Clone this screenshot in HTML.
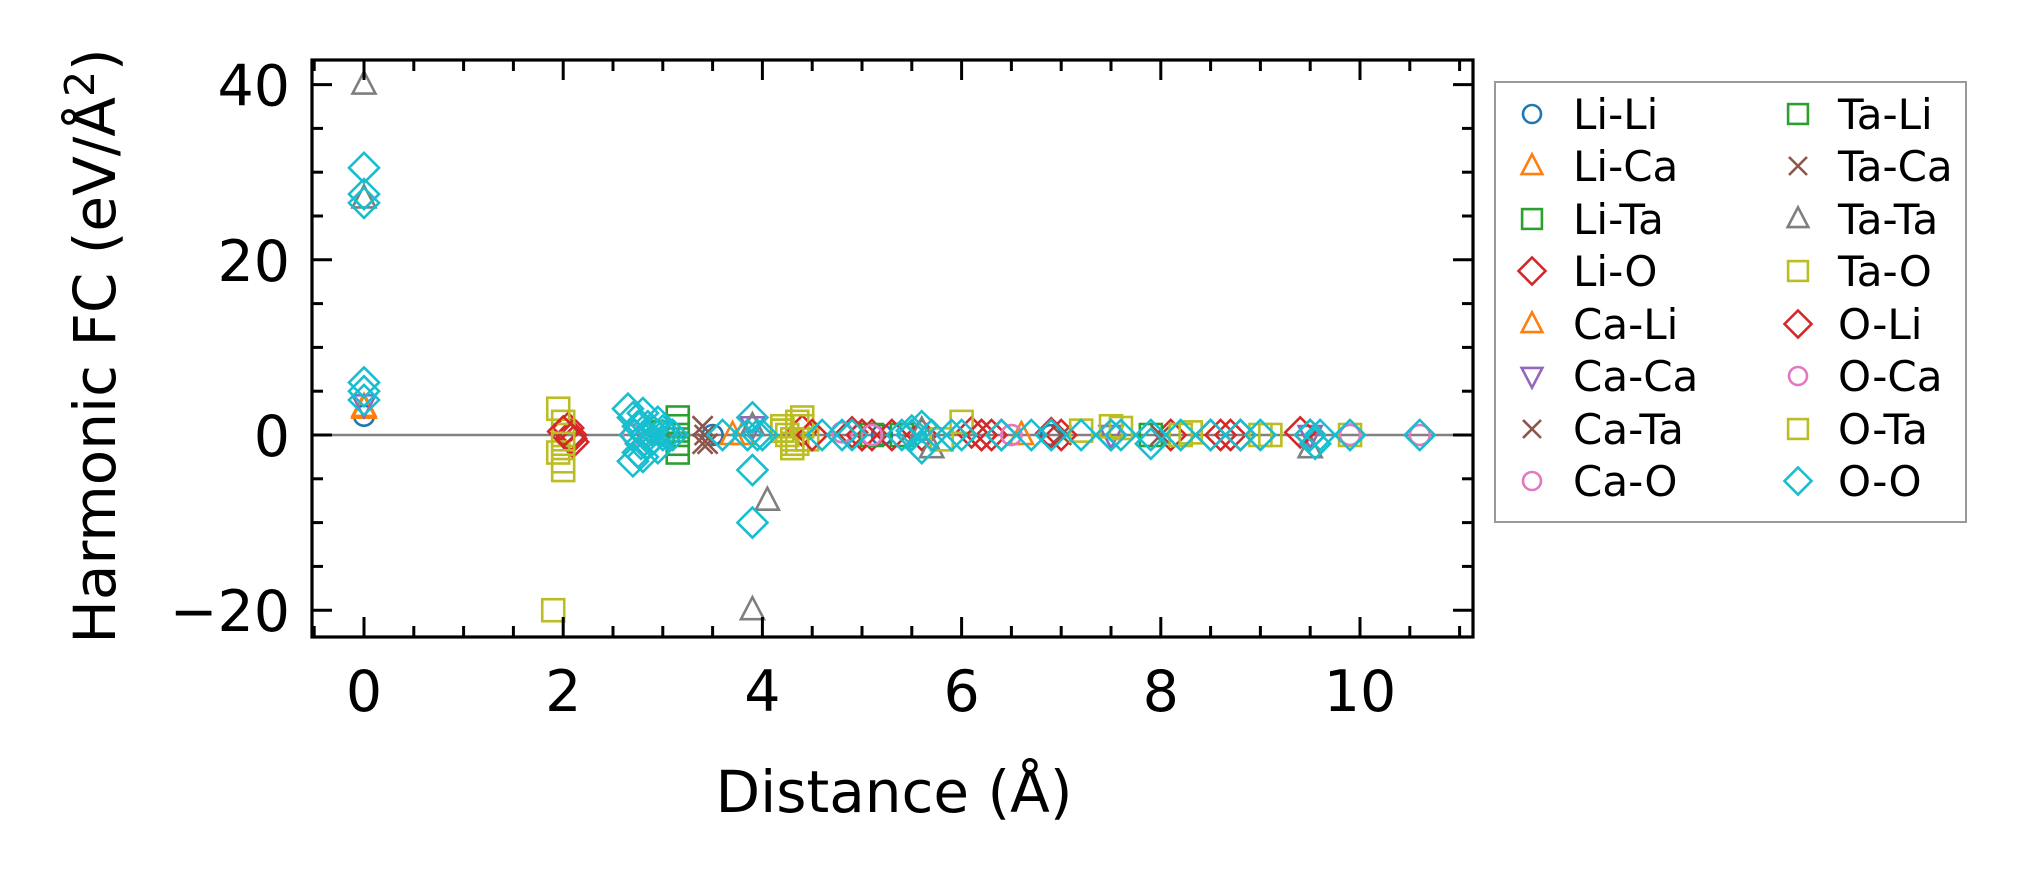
<!DOCTYPE html>
<html><head><meta charset="utf-8"><style>
html,body{margin:0;padding:0;background:#fff;}
svg{display:block;font-family:"DejaVu Sans","Liberation Sans",sans-serif;}
</style></head><body>
<svg id="chart" width="2026" height="883" viewBox="0 0 2026 883" xmlns="http://www.w3.org/2000/svg">
<rect width="2026" height="883" fill="#fff"/>
<g id="plot"></g>
<g id="axes"></g>
<g id="legend"></g>
</svg>
<script>
// ---- data ----
const xTicks = [0, 2, 4, 6, 8, 10];
const yTicks = [-20, 0, 20, 40];
const seriesNames = ["Li-Li","Li-Ca","Li-Ta","Li-O","Ca-Li","Ca-Ca","Ca-Ta","Ca-O","Ta-Li","Ta-Ca","Ta-Ta","Ta-O","O-Li","O-Ca","O-Ta","O-O"];
const liliD = [0, 3.5, 5.2, 6.9];
const liliV = [2.2, 0, 0, 0];
const licaD = [0, 3.7];
const licaV = [3, 0];
const litaD = [3.0, 5.4];
const litaV = [0.3, 0];
const lioD = [2.05, 2.1, 2.08, 4.4, 4.9, 5.0, 5.1, 5.6, 6.1, 6.2, 6.3, 6.9, 7.5, 8.1, 8.5, 8.8, 9.5];
const lioV = [0.8, -0.8, 0, 0.5, 0.3, 0, 0, 0, 0.3, 0, 0, 0.2, 0, 0, 0, 0, 0];
const caliD = [0, 3.8, 6.6];
const caliV = [3.2, 0, 0];
const cacaD = [0, 3.9, 7.5, 9.5];
const cacaV = [3.5, 1, 0, 0];
const cataD = [3.4, 3.45, 3.42, 7.0];
const cataV = [1, -1, 0, 0];
const caoD = [2.7, 4.8, 5.1, 6.5];
const caoV = [0, 0.3, 0, 0];
const taliD = [3.15, 3.15, 3.15, 3.15, 3.15, 5.1, 7.9];
const taliV = [2, 1, 0, -1, -2, 0, 0];
const tacaD = [3.4, 3.4, 8.0];
const tacaV = [1, -1, 0];
const tataD = [0, 0, 3.9, 4.05, 3.9, 5.6, 5.7, 9.5];
const tataV = [40, 27, -20, -7.5, 1, 0.5, -1.5, -1.5];
const taoD = [1.9, 1.95, 1.95, 2.0, 2.0, 2.0, 4.2, 4.25, 4.3, 4.35, 4.4, 4.4, 4.35, 4.3, 4.2, 4.45, 6.0, 7.5, 7.6, 8.3, 9.1, 9.9];
const taoV = [-20, 3, -2, -4, 0, 1.5, 1, 0, -1, 1.5, 2, 1, -1, -1.5, 0.5, -0.5, 1.5, 1, 0.8, 0.3, 0, 0];
const oliD = [2.0, 2.08, 4.5, 5.0, 5.3, 6.2, 6.4, 7.0, 8.6, 8.7, 9.4];
const oliV = [0.4, -0.4, 0, 0, 0, 0, 0, 0, 0, 0, 0.3];
const ocaD = [5.1, 6.5, 9.9, 10.6];
const ocaV = [0, 0, 0, 0];
const otaD = [2.0, 2.0, 4.2, 4.3, 5.8, 7.2, 8.2, 9.0];
const otaV = [-1, -3, 0.5, -0.5, -0.5, 0.5, 0, 0];
const ooD = [0,0,0,0,0,0,2.65,2.7,2.7,2.72,2.75,2.75,2.78,2.8,2.8,2.82,2.85,2.85,2.9,2.9,2.95,2.95,3.0,3.0,3.05,3.1,3.6,3.85,3.9,3.9,3.9,3.95,4.0,4.6,4.8,4.9,5.4,5.5,5.5,5.6,5.6,5.7,5.9,6.0,6.4,6.7,6.9,7.2,7.5,7.6,7.9,7.9,8.2,8.5,8.8,9.0,9.5,9.55,9.6,9.9,10.6];
const ooV = [30.5,27.5,26.5,6,5,4,3,-3,2,0,-2,1,-1,2.5,-2.5,0,1,-1,0.5,-0.5,1.5,-1.5,0,0.5,0,0,0,0,2,-4,-10,0,0,0,0,0,0,0,0.5,-1.5,1,0,0,0,0,0,0,0,0,0,0,-1,0,0,0,0,0,-1,0,0,0];

const seriesD = [liliD,licaD,litaD,lioD,caliD,cacaD,cataD,caoD,taliD,tacaD,tataD,taoD,oliD,ocaD,otaD,ooD];
const seriesV = [liliV,licaV,litaV,lioV,caliV,cacaV,cataV,caoV,taliV,tacaV,tataV,taoV,oliV,ocaV,otaV,ooV];
const colors = ["#1f77b4","#ff7f0e","#2ca02c","#d62728","#ff7f0e","#9467bd","#8c564b","#e377c2","#2ca02c","#8c564b","#7f7f7f","#bcbd22","#d62728","#e377c2","#bcbd22","#17becf"];
const markers = ["o","^","s","D","^","v","x","o","s","x","^","s","D","o","s","D"];

// ---- layout ----
const L=312, R=1473, T=60, B=637;
const x0px=364, xScale=99.6, y0px=435, yScale=8.76;
function X(v){return x0px+v*xScale;}
function Y(v){return y0px-v*yScale;}
const NS="http://www.w3.org/2000/svg";
function mk(tag, attrs, parent){const e=document.createElementNS(NS,tag);for(const k in attrs)e.setAttribute(k,attrs[k]);parent.appendChild(e);return e;}

function marker(parent, type, cx, cy, color, s){
  const st={fill:"none",stroke:color,"stroke-width":2.6};
  let e;
  if(type==="o") e=mk("circle",Object.assign({cx:cx,cy:cy,r:10*s},st),parent);
  else if(type==="s") e=mk("rect",Object.assign({x:cx-11*s,y:cy-11*s,width:22*s,height:22*s},st),parent);
  else if(type==="D") e=mk("polygon",Object.assign({points:`${cx},${cy-15*s} ${cx+15*s},${cy} ${cx},${cy+15*s} ${cx-15*s},${cy}`},st),parent);
  else if(type==="^") e=mk("polygon",Object.assign({points:`${cx},${cy-13*s} ${cx+11.5*s},${cy+9*s} ${cx-11.5*s},${cy+9*s}`},st),parent);
  else if(type==="v") e=mk("polygon",Object.assign({points:`${cx},${cy+13*s} ${cx+11.5*s},${cy-9*s} ${cx-11.5*s},${cy-9*s}`},st),parent);
  else if(type==="x") e=mk("path",Object.assign({d:`M${cx-10*s},${cy-10*s}L${cx+10*s},${cy+10*s}M${cx-10*s},${cy+10*s}L${cx+10*s},${cy-10*s}`},st),parent);
  return e;
}

const plot=document.getElementById("plot");
const zl=mk("line",{x1:L,x2:R,y1:Y(0),y2:Y(0),stroke:"#808080","stroke-width":2.6},plot);


for(let i=0;i<seriesD.length;i++){
  const g=mk("g",{},plot);
  
  
  for(let j=0;j<seriesD[i].length;j++){
    const m=marker(g,markers[i],X(seriesD[i][j]),Y(seriesV[i][j]),colors[i],1);
    
    
  }
}

// ---- axes ----
const axes=document.getElementById("axes");
const frame=mk("rect",{x:L,y:T,width:R-L,height:B-T,fill:"none",stroke:"#000","stroke-width":3.2},axes);


const tk={stroke:"#000","stroke-width":3};
for(let v=-0.5;v<=11.01;v+=0.5){
  const px=X(v); if(px<L+1||px>R-1) continue;
  const major=Math.abs(v-Math.round(v/2)*2)<1e-6;
  const len=major?20:11;
  const t1=mk("line",Object.assign({x1:px,x2:px,y1:B,y2:B-len},tk),axes);
  
  
  const t2=mk("line",Object.assign({x1:px,x2:px,y1:T,y2:T+len},tk),axes);
  
  
}
for(let v=-25;v<=45;v+=5){
  const py=Y(v); if(py<T+1||py>B-1) continue;
  const major=v%20===0;
  const len=major?20:11;
  const t1=mk("line",Object.assign({x1:L,x2:L+len,y1:py,y2:py},tk),axes);
  
  
  const t2=mk("line",Object.assign({x1:R,x2:R-len,y1:py,y2:py},tk),axes);
  
  
}
xTicks.forEach(v=>{
  const t=mk("text",{x:X(v),y:711,"font-size":57,"text-anchor":"middle",fill:"#000"},axes);
  t.textContent=String(v);
  
  
});
yTicks.forEach(v=>{
  const t=mk("text",{x:290,y:Y(v)+21,"font-size":57,"text-anchor":"end",fill:"#000"},axes);
  t.textContent=v<0?"\u2212"+Math.abs(v):String(v);
  
  
});
const xl=mk("text",{x:894,y:812,"font-size":58,"text-anchor":"middle",fill:"#000"},axes);
xl.textContent="Distance (Å)";


const yl=mk("text",{x:0,y:0,"font-size":58,"text-anchor":"middle",fill:"#000",transform:"translate(115,346) rotate(-90)"},axes);
yl.innerHTML='Harmonic FC (eV/Å<tspan dy="-21" font-size="41">2</tspan><tspan dy="21">)</tspan>';



// ---- legend ----
const leg=document.getElementById("legend");
const lb=mk("rect",{x:1495,y:82,width:471,height:440,fill:"#fff",stroke:"#999","stroke-width":2},leg);


const rows=[114,166,219,271,324,376,429,481];
for(let i=0;i<16;i++){
  const col=Math.floor(i/8), r=i%8;
  const mx=col?1798:1532, tx=col?1838:1573, cy=rows[r];
  const g=mk("g",{},leg);
  
  
  marker(g,markers[i],mx,cy,colors[i],0.9);
  const t=mk("text",{x:tx,y:cy+15,"font-size":42,fill:"#000"},g);
  t.textContent=seriesNames[i];
}
</script>
</body></html>
